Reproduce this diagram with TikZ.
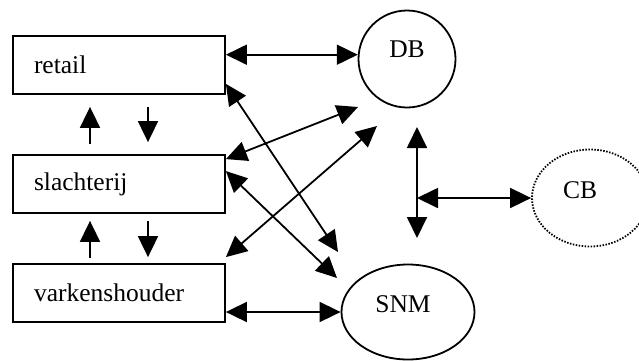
\documentclass[tikz,border=0pt]{standalone}
\usepackage{fontspec}
\setmainfont{Liberation Serif}
\usetikzlibrary{arrows.meta,shapes.geometric}

\tikzset{
    actor/.style={draw, line width=1.8pt, minimum height=58pt, text width=170pt,
        inner xsep=21pt, align=left},
    party/.style={draw, line width=1.8pt, text height=17pt, text depth=17pt},
    bi/.style={line width=1.8pt, {Triangle[length=21pt,width=20pt]}-{Triangle[length=21pt,width=20pt]}},
    one/.style={line width=1.8pt, -{Triangle[length=21pt,width=20pt]}}
}

\begin{document}
\begin{tikzpicture}[x=1pt, y=-1pt, font=\fontsize{25.5}{30}\selectfont]
    \useasboundingbox (0,0) rectangle (639,360);

    % the chain
    \node[actor] (retail) at (119,65) {retail};
    \node[actor] (slacht) at (119,184) {slachterij};
    \node[actor] (varken) at (119,293) {varkenshouder};

    % the others
    \node[party, circle, minimum size=97pt, text depth=20pt] (db) at (407,59) {DB};
    \node[party, ellipse, minimum width=133pt, minimum height=95pt] (snm) at (408,312) {SNM\kern10pt};
    \node[party, ellipse, dash pattern=on 1.5pt off 1.5pt, minimum width=116pt, minimum height=97pt] (cb) at (590,198) {CB\kern20pt};

    % loose ends of the links
    \coordinate (dbA) at (358,107);
    \coordinate (dbB) at (377,126);
    \coordinate (snmA) at (338,252);
    \coordinate (snmB) at (337,278);
    \coordinate (dbS) at (417,127);
    \coordinate (snmN) at (417,238);
    \coordinate (hub) at (417,198);

    % up and down the chain
    \draw[one] ([xshift=-29pt,yshift=10pt]slacht.north) -- ([xshift=-29pt,yshift=-12pt]retail.south);
    \draw[one] ([xshift=29pt,yshift=-12pt]retail.south) -- ([xshift=29pt,yshift=12pt]slacht.north);
    \draw[one] ([xshift=-29pt,yshift=5pt]varken.north) -- ([xshift=-29pt,yshift=-7pt]slacht.south);
    \draw[one] ([xshift=29pt,yshift=-7pt]slacht.south) -- ([xshift=29pt,yshift=6pt]varken.north);

    % links to DB and SNM
    \draw[bi] (retail.east |- db.175) -- (db.175);
    \draw[bi] (varken.east |- snm.west) -- (snm.west);
    \draw[bi] ([yshift=11pt]retail.south east) -- (snmA);
    \draw[bi] ([yshift=-5pt]slacht.north east) -- (dbA);
    \draw[bi] ([yshift=-17pt]slacht.north east) -- (snmB);
    \draw[bi] ([yshift=6pt]varken.north east) -- (dbB);

    % DB -- SNM and CB
    \draw[bi] (dbS) -- (snmN);
    \draw[bi] (hub) -- (cb.west);
\end{tikzpicture}
\end{document}
